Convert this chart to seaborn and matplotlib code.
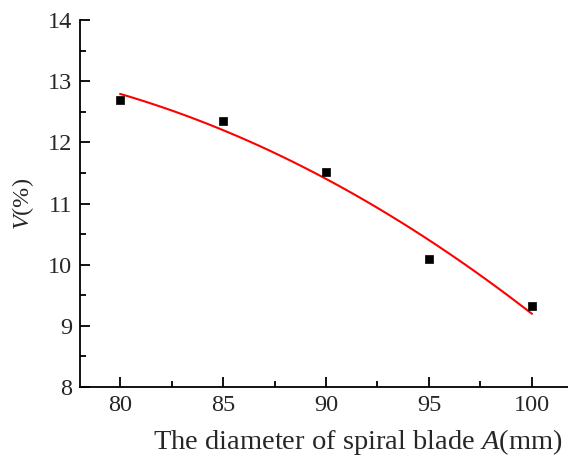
import matplotlib
matplotlib.use("Agg")
import matplotlib.pyplot as plt
import seaborn as sns
import pandas as pd
from matplotlib.ticker import MultipleLocator

diameter = [80, 85, 90, 95, 100]
v_percent = [12.70, 12.35, 11.52, 10.10, 9.33]
x_ticks = [80, 85, 90, 95, 100]
y_ticks = [8, 9, 10, 11, 12, 13, 14]

sns.set_theme(style="ticks")
plt.rcParams['font.family'] = ['Liberation Serif', 'DejaVu Serif']
plt.rcParams['mathtext.fontset'] = 'custom'
plt.rcParams['mathtext.rm'] = 'Liberation Serif'
plt.rcParams['mathtext.it'] = 'Liberation Serif:italic'

df = pd.DataFrame({"A": diameter, "V": v_percent})

fig = plt.figure(figsize=(5.68, 4.57), dpi=100)
ax = fig.add_axes([0.141, 0.153, 0.859, 0.803])

sns.regplot(data=df, x="A", y="V", order=2, ci=None, scatter=False,
            truncate=True, ax=ax, line_kws=dict(color="#ff0000", lw=1.5))
sns.scatterplot(data=df, x="A", y="V", marker="s", s=40, color="black",
                edgecolor="black", linewidth=0.5, ax=ax, zorder=3)

ax.set_xlim(78.06, 101.75)
ax.set_ylim(8, 14)
ax.set_xticks(x_ticks)
ax.set_yticks(y_ticks)
ax.xaxis.set_minor_locator(MultipleLocator(2.5))
ax.yaxis.set_minor_locator(MultipleLocator(0.5))
ax.tick_params(which="major", direction="in", length=7, width=1.3, labelsize=17.5, color="black", pad=5.5)
ax.tick_params(which="minor", direction="in", length=4, width=1.3, color="black")
for s in ["top", "right"]:
    ax.spines[s].set_visible(False)
for s in ["left", "bottom"]:
    ax.spines[s].set_linewidth(1.3)
    ax.spines[s].set_color("black")

ax.set_xlabel("The diameter of spiral blade $A$(mm)", fontsize=20.5)
ax.set_ylabel("$V$(%)", fontsize=17.5)
ax.xaxis.set_label_coords(0.57, -0.108)
ax.yaxis.set_label_coords(-0.09, 0.5)

fig.savefig("out.png", dpi=100)
